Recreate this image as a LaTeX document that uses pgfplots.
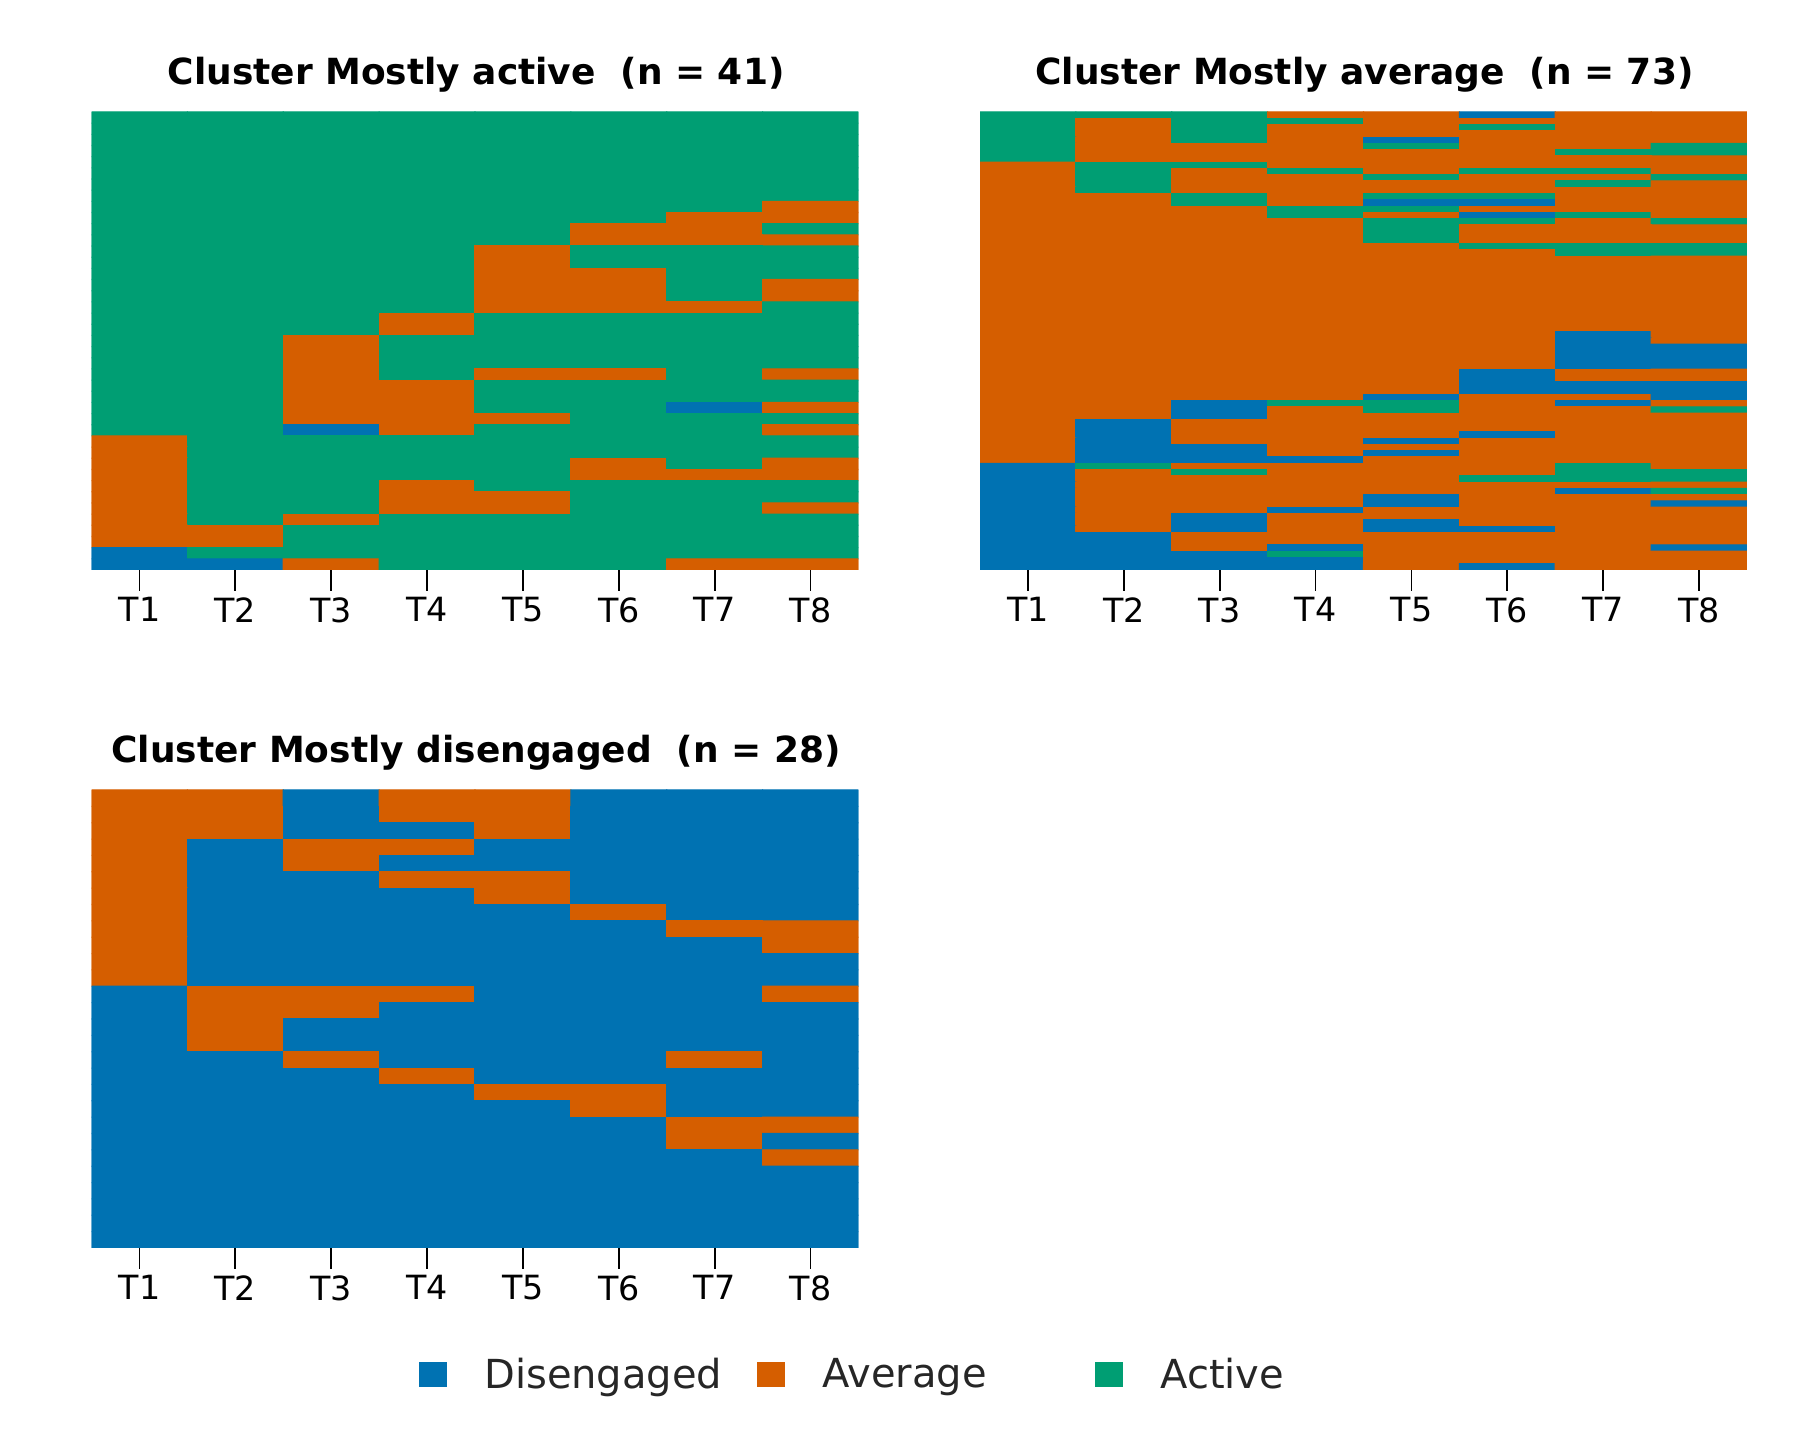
\documentclass[border=0pt]{standalone}
\usepackage{pgfplots}
\pgfplotsset{compat=1.18}
\usepackage{fontspec}
\setmainfont{DejaVu Sans}
\definecolor{cDis}{RGB}{0,114,178}
\definecolor{cAvg}{RGB}{213,94,0}
\definecolor{cAct}{RGB}{0,158,115}
\definecolor{txtgray}{RGB}{38,38,38}
\pgfplotsset{
  seqax/.style={
    anchor=south west, scale only axis, width=276.12pt, height=164.88pt,
    xmin=0.5, xmax=8.5, y dir=reverse,
    axis line style={draw=none},
    xtick={1,2,3,4,5,6,7,8}, xticklabels={T1,T2,T3,T4,T5,T6,T7,T8},
    ytick=\empty, tick align=outside, tick pos=left,
    major tick length=7.5pt,
    tick style={black, line width=0.6pt},
    xticklabel style={font=\fontsize{12}{14.4}\selectfont, text=black, yshift=1.1pt},
    colormap={seqcm}{rgb255=(0,114,178) rgb255=(213,94,0) rgb255=(0,158,115)},
    point meta min=0, point meta max=2,
  },
  seqplot/.style={matrix plot*, mesh/cols=8, point meta=explicit},
}
\begin{document}
\begin{tikzpicture}
\path[use as bounding box] (0,0) rectangle (648pt,518.4pt);
% Cluster Mostly active (41 sequences, row 0 at top)
\begin{axis}[seqax, at={(32.94pt,313.2pt)}, ymin=-0.5, ymax=40.5]
\addplot[seqplot] coordinates {
(1,0)[2] (2,0)[2] (3,0)[2] (4,0)[2] (5,0)[2] (6,0)[2] (7,0)[2] (8,0)[2]
(1,1)[2] (2,1)[2] (3,1)[2] (4,1)[2] (5,1)[2] (6,1)[2] (7,1)[2] (8,1)[2]
(1,2)[2] (2,2)[2] (3,2)[2] (4,2)[2] (5,2)[2] (6,2)[2] (7,2)[2] (8,2)[2]
(1,3)[2] (2,3)[2] (3,3)[2] (4,3)[2] (5,3)[2] (6,3)[2] (7,3)[2] (8,3)[2]
(1,4)[2] (2,4)[2] (3,4)[2] (4,4)[2] (5,4)[2] (6,4)[2] (7,4)[2] (8,4)[2]
(1,5)[2] (2,5)[2] (3,5)[2] (4,5)[2] (5,5)[2] (6,5)[2] (7,5)[2] (8,5)[2]
(1,6)[2] (2,6)[2] (3,6)[2] (4,6)[2] (5,6)[2] (6,6)[2] (7,6)[2] (8,6)[2]
(1,7)[2] (2,7)[2] (3,7)[2] (4,7)[2] (5,7)[2] (6,7)[2] (7,7)[2] (8,7)[2]
(1,8)[2] (2,8)[2] (3,8)[2] (4,8)[2] (5,8)[2] (6,8)[2] (7,8)[2] (8,8)[1]
(1,9)[2] (2,9)[2] (3,9)[2] (4,9)[2] (5,9)[2] (6,9)[2] (7,9)[1] (8,9)[1]
(1,10)[2] (2,10)[2] (3,10)[2] (4,10)[2] (5,10)[2] (6,10)[1] (7,10)[1] (8,10)[2]
(1,11)[2] (2,11)[2] (3,11)[2] (4,11)[2] (5,11)[2] (6,11)[1] (7,11)[1] (8,11)[1]
(1,12)[2] (2,12)[2] (3,12)[2] (4,12)[2] (5,12)[1] (6,12)[2] (7,12)[2] (8,12)[2]
(1,13)[2] (2,13)[2] (3,13)[2] (4,13)[2] (5,13)[1] (6,13)[2] (7,13)[2] (8,13)[2]
(1,14)[2] (2,14)[2] (3,14)[2] (4,14)[2] (5,14)[1] (6,14)[1] (7,14)[2] (8,14)[2]
(1,15)[2] (2,15)[2] (3,15)[2] (4,15)[2] (5,15)[1] (6,15)[1] (7,15)[2] (8,15)[1]
(1,16)[2] (2,16)[2] (3,16)[2] (4,16)[2] (5,16)[1] (6,16)[1] (7,16)[2] (8,16)[1]
(1,17)[2] (2,17)[2] (3,17)[2] (4,17)[2] (5,17)[1] (6,17)[1] (7,17)[1] (8,17)[2]
(1,18)[2] (2,18)[2] (3,18)[2] (4,18)[1] (5,18)[2] (6,18)[2] (7,18)[2] (8,18)[2]
(1,19)[2] (2,19)[2] (3,19)[2] (4,19)[1] (5,19)[2] (6,19)[2] (7,19)[2] (8,19)[2]
(1,20)[2] (2,20)[2] (3,20)[1] (4,20)[2] (5,20)[2] (6,20)[2] (7,20)[2] (8,20)[2]
(1,21)[2] (2,21)[2] (3,21)[1] (4,21)[2] (5,21)[2] (6,21)[2] (7,21)[2] (8,21)[2]
(1,22)[2] (2,22)[2] (3,22)[1] (4,22)[2] (5,22)[2] (6,22)[2] (7,22)[2] (8,22)[2]
(1,23)[2] (2,23)[2] (3,23)[1] (4,23)[2] (5,23)[1] (6,23)[1] (7,23)[2] (8,23)[1]
(1,24)[2] (2,24)[2] (3,24)[1] (4,24)[1] (5,24)[2] (6,24)[2] (7,24)[2] (8,24)[2]
(1,25)[2] (2,25)[2] (3,25)[1] (4,25)[1] (5,25)[2] (6,25)[2] (7,25)[2] (8,25)[2]
(1,26)[2] (2,26)[2] (3,26)[1] (4,26)[1] (5,26)[2] (6,26)[2] (7,26)[0] (8,26)[1]
(1,27)[2] (2,27)[2] (3,27)[1] (4,27)[1] (5,27)[1] (6,27)[2] (7,27)[2] (8,27)[2]
(1,28)[2] (2,28)[2] (3,28)[0] (4,28)[1] (5,28)[2] (6,28)[2] (7,28)[2] (8,28)[1]
(1,29)[1] (2,29)[2] (3,29)[2] (4,29)[2] (5,29)[2] (6,29)[2] (7,29)[2] (8,29)[2]
(1,30)[1] (2,30)[2] (3,30)[2] (4,30)[2] (5,30)[2] (6,30)[2] (7,30)[2] (8,30)[2]
(1,31)[1] (2,31)[2] (3,31)[2] (4,31)[2] (5,31)[2] (6,31)[1] (7,31)[2] (8,31)[1]
(1,32)[1] (2,32)[2] (3,32)[2] (4,32)[2] (5,32)[2] (6,32)[1] (7,32)[1] (8,32)[1]
(1,33)[1] (2,33)[2] (3,33)[2] (4,33)[1] (5,33)[2] (6,33)[2] (7,33)[2] (8,33)[2]
(1,34)[1] (2,34)[2] (3,34)[2] (4,34)[1] (5,34)[1] (6,34)[2] (7,34)[2] (8,34)[2]
(1,35)[1] (2,35)[2] (3,35)[2] (4,35)[1] (5,35)[1] (6,35)[2] (7,35)[2] (8,35)[1]
(1,36)[1] (2,36)[2] (3,36)[1] (4,36)[2] (5,36)[2] (6,36)[2] (7,36)[2] (8,36)[2]
(1,37)[1] (2,37)[1] (3,37)[2] (4,37)[2] (5,37)[2] (6,37)[2] (7,37)[2] (8,37)[2]
(1,38)[1] (2,38)[1] (3,38)[2] (4,38)[2] (5,38)[2] (6,38)[2] (7,38)[2] (8,38)[2]
(1,39)[0] (2,39)[2] (3,39)[2] (4,39)[2] (5,39)[2] (6,39)[2] (7,39)[2] (8,39)[2]
(1,40)[0] (2,40)[0] (3,40)[1] (4,40)[2] (5,40)[2] (6,40)[2] (7,40)[1] (8,40)[1]
};
\end{axis}
% Cluster Mostly average (73 sequences)
\begin{axis}[seqax, at={(352.8pt,313.2pt)}, ymin=-0.5, ymax=72.5]
\addplot[seqplot] coordinates {
(1,0)[2] (2,0)[2] (3,0)[2] (4,0)[1] (5,0)[1] (6,0)[0] (7,0)[1] (8,0)[1]
(1,1)[2] (2,1)[1] (3,1)[2] (4,1)[2] (5,1)[1] (6,1)[1] (7,1)[1] (8,1)[1]
(1,2)[2] (2,2)[1] (3,2)[2] (4,2)[1] (5,2)[1] (6,2)[2] (7,2)[1] (8,2)[1]
(1,3)[2] (2,3)[1] (3,3)[2] (4,3)[1] (5,3)[1] (6,3)[1] (7,3)[1] (8,3)[1]
(1,4)[2] (2,4)[1] (3,4)[2] (4,4)[1] (5,4)[0] (6,4)[1] (7,4)[1] (8,4)[1]
(1,5)[2] (2,5)[1] (3,5)[1] (4,5)[1] (5,5)[2] (6,5)[1] (7,5)[1] (8,5)[2]
(1,6)[2] (2,6)[1] (3,6)[1] (4,6)[1] (5,6)[1] (6,6)[1] (7,6)[2] (8,6)[2]
(1,7)[2] (2,7)[1] (3,7)[1] (4,7)[1] (5,7)[1] (6,7)[1] (7,7)[1] (8,7)[1]
(1,8)[1] (2,8)[2] (3,8)[2] (4,8)[1] (5,8)[1] (6,8)[1] (7,8)[1] (8,8)[1]
(1,9)[1] (2,9)[2] (3,9)[1] (4,9)[2] (5,9)[1] (6,9)[2] (7,9)[2] (8,9)[1]
(1,10)[1] (2,10)[2] (3,10)[1] (4,10)[1] (5,10)[2] (6,10)[1] (7,10)[1] (8,10)[2]
(1,11)[1] (2,11)[2] (3,11)[1] (4,11)[1] (5,11)[1] (6,11)[1] (7,11)[2] (8,11)[1]
(1,12)[1] (2,12)[2] (3,12)[1] (4,12)[1] (5,12)[1] (6,12)[1] (7,12)[1] (8,12)[1]
(1,13)[1] (2,13)[1] (3,13)[2] (4,13)[1] (5,13)[2] (6,13)[2] (7,13)[1] (8,13)[1]
(1,14)[1] (2,14)[1] (3,14)[2] (4,14)[1] (5,14)[0] (6,14)[0] (7,14)[1] (8,14)[1]
(1,15)[1] (2,15)[1] (3,15)[1] (4,15)[2] (5,15)[2] (6,15)[1] (7,15)[1] (8,15)[1]
(1,16)[1] (2,16)[1] (3,16)[1] (4,16)[2] (5,16)[1] (6,16)[0] (7,16)[2] (8,16)[1]
(1,17)[1] (2,17)[1] (3,17)[1] (4,17)[1] (5,17)[2] (6,17)[2] (7,17)[1] (8,17)[2]
(1,18)[1] (2,18)[1] (3,18)[1] (4,18)[1] (5,18)[2] (6,18)[1] (7,18)[1] (8,18)[1]
(1,19)[1] (2,19)[1] (3,19)[1] (4,19)[1] (5,19)[2] (6,19)[1] (7,19)[1] (8,19)[1]
(1,20)[1] (2,20)[1] (3,20)[1] (4,20)[1] (5,20)[2] (6,20)[1] (7,20)[1] (8,20)[1]
(1,21)[1] (2,21)[1] (3,21)[1] (4,21)[1] (5,21)[1] (6,21)[2] (7,21)[2] (8,21)[2]
(1,22)[1] (2,22)[1] (3,22)[1] (4,22)[1] (5,22)[1] (6,22)[1] (7,22)[2] (8,22)[2]
(1,23)[1] (2,23)[1] (3,23)[1] (4,23)[1] (5,23)[1] (6,23)[1] (7,23)[1] (8,23)[1]
(1,24)[1] (2,24)[1] (3,24)[1] (4,24)[1] (5,24)[1] (6,24)[1] (7,24)[1] (8,24)[1]
(1,25)[1] (2,25)[1] (3,25)[1] (4,25)[1] (5,25)[1] (6,25)[1] (7,25)[1] (8,25)[1]
(1,26)[1] (2,26)[1] (3,26)[1] (4,26)[1] (5,26)[1] (6,26)[1] (7,26)[1] (8,26)[1]
(1,27)[1] (2,27)[1] (3,27)[1] (4,27)[1] (5,27)[1] (6,27)[1] (7,27)[1] (8,27)[1]
(1,28)[1] (2,28)[1] (3,28)[1] (4,28)[1] (5,28)[1] (6,28)[1] (7,28)[1] (8,28)[1]
(1,29)[1] (2,29)[1] (3,29)[1] (4,29)[1] (5,29)[1] (6,29)[1] (7,29)[1] (8,29)[1]
(1,30)[1] (2,30)[1] (3,30)[1] (4,30)[1] (5,30)[1] (6,30)[1] (7,30)[1] (8,30)[1]
(1,31)[1] (2,31)[1] (3,31)[1] (4,31)[1] (5,31)[1] (6,31)[1] (7,31)[1] (8,31)[1]
(1,32)[1] (2,32)[1] (3,32)[1] (4,32)[1] (5,32)[1] (6,32)[1] (7,32)[1] (8,32)[1]
(1,33)[1] (2,33)[1] (3,33)[1] (4,33)[1] (5,33)[1] (6,33)[1] (7,33)[1] (8,33)[1]
(1,34)[1] (2,34)[1] (3,34)[1] (4,34)[1] (5,34)[1] (6,34)[1] (7,34)[1] (8,34)[1]
(1,35)[1] (2,35)[1] (3,35)[1] (4,35)[1] (5,35)[1] (6,35)[1] (7,35)[0] (8,35)[1]
(1,36)[1] (2,36)[1] (3,36)[1] (4,36)[1] (5,36)[1] (6,36)[1] (7,36)[0] (8,36)[1]
(1,37)[1] (2,37)[1] (3,37)[1] (4,37)[1] (5,37)[1] (6,37)[1] (7,37)[0] (8,37)[0]
(1,38)[1] (2,38)[1] (3,38)[1] (4,38)[1] (5,38)[1] (6,38)[1] (7,38)[0] (8,38)[0]
(1,39)[1] (2,39)[1] (3,39)[1] (4,39)[1] (5,39)[1] (6,39)[1] (7,39)[0] (8,39)[0]
(1,40)[1] (2,40)[1] (3,40)[1] (4,40)[1] (5,40)[1] (6,40)[1] (7,40)[0] (8,40)[0]
(1,41)[1] (2,41)[1] (3,41)[1] (4,41)[1] (5,41)[1] (6,41)[0] (7,41)[1] (8,41)[1]
(1,42)[1] (2,42)[1] (3,42)[1] (4,42)[1] (5,42)[1] (6,42)[0] (7,42)[1] (8,42)[1]
(1,43)[1] (2,43)[1] (3,43)[1] (4,43)[1] (5,43)[1] (6,43)[0] (7,43)[0] (8,43)[0]
(1,44)[1] (2,44)[1] (3,44)[1] (4,44)[1] (5,44)[1] (6,44)[0] (7,44)[0] (8,44)[0]
(1,45)[1] (2,45)[1] (3,45)[1] (4,45)[1] (5,45)[0] (6,45)[1] (7,45)[1] (8,45)[0]
(1,46)[1] (2,46)[1] (3,46)[0] (4,46)[2] (5,46)[2] (6,46)[1] (7,46)[0] (8,46)[1]
(1,47)[1] (2,47)[1] (3,47)[0] (4,47)[1] (5,47)[2] (6,47)[1] (7,47)[1] (8,47)[2]
(1,48)[1] (2,48)[1] (3,48)[0] (4,48)[1] (5,48)[1] (6,48)[1] (7,48)[1] (8,48)[1]
(1,49)[1] (2,49)[0] (3,49)[1] (4,49)[1] (5,49)[1] (6,49)[1] (7,49)[1] (8,49)[1]
(1,50)[1] (2,50)[0] (3,50)[1] (4,50)[1] (5,50)[1] (6,50)[1] (7,50)[1] (8,50)[1]
(1,51)[1] (2,51)[0] (3,51)[1] (4,51)[1] (5,51)[1] (6,51)[0] (7,51)[1] (8,51)[1]
(1,52)[1] (2,52)[0] (3,52)[1] (4,52)[1] (5,52)[0] (6,52)[1] (7,52)[1] (8,52)[1]
(1,53)[1] (2,53)[0] (3,53)[0] (4,53)[1] (5,53)[1] (6,53)[1] (7,53)[1] (8,53)[1]
(1,54)[1] (2,54)[0] (3,54)[0] (4,54)[1] (5,54)[0] (6,54)[1] (7,54)[1] (8,54)[1]
(1,55)[1] (2,55)[0] (3,55)[0] (4,55)[0] (5,55)[1] (6,55)[1] (7,55)[1] (8,55)[1]
(1,56)[0] (2,56)[2] (3,56)[1] (4,56)[1] (5,56)[1] (6,56)[1] (7,56)[2] (8,56)[1]
(1,57)[0] (2,57)[1] (3,57)[2] (4,57)[1] (5,57)[1] (6,57)[1] (7,57)[2] (8,57)[2]
(1,58)[0] (2,58)[1] (3,58)[1] (4,58)[1] (5,58)[1] (6,58)[2] (7,58)[2] (8,58)[2]
(1,59)[0] (2,59)[1] (3,59)[1] (4,59)[1] (5,59)[1] (6,59)[1] (7,59)[1] (8,59)[1]
(1,60)[0] (2,60)[1] (3,60)[1] (4,60)[1] (5,60)[1] (6,60)[1] (7,60)[0] (8,60)[2]
(1,61)[0] (2,61)[1] (3,61)[1] (4,61)[1] (5,61)[0] (6,61)[1] (7,61)[1] (8,61)[1]
(1,62)[0] (2,62)[1] (3,62)[1] (4,62)[1] (5,62)[0] (6,62)[1] (7,62)[1] (8,62)[0]
(1,63)[0] (2,63)[1] (3,63)[1] (4,63)[0] (5,63)[1] (6,63)[1] (7,63)[1] (8,63)[1]
(1,64)[0] (2,64)[1] (3,64)[0] (4,64)[1] (5,64)[1] (6,64)[1] (7,64)[1] (8,64)[1]
(1,65)[0] (2,65)[1] (3,65)[0] (4,65)[1] (5,65)[0] (6,65)[1] (7,65)[1] (8,65)[1]
(1,66)[0] (2,66)[1] (3,66)[0] (4,66)[1] (5,66)[0] (6,66)[0] (7,66)[1] (8,66)[1]
(1,67)[0] (2,67)[0] (3,67)[1] (4,67)[1] (5,67)[1] (6,67)[1] (7,67)[1] (8,67)[1]
(1,68)[0] (2,68)[0] (3,68)[1] (4,68)[1] (5,68)[1] (6,68)[1] (7,68)[1] (8,68)[1]
(1,69)[0] (2,69)[0] (3,69)[1] (4,69)[0] (5,69)[1] (6,69)[1] (7,69)[1] (8,69)[0]
(1,70)[0] (2,70)[0] (3,70)[0] (4,70)[2] (5,70)[1] (6,70)[1] (7,70)[1] (8,70)[1]
(1,71)[0] (2,71)[0] (3,71)[0] (4,71)[0] (5,71)[1] (6,71)[1] (7,71)[1] (8,71)[1]
(1,72)[0] (2,72)[0] (3,72)[0] (4,72)[0] (5,72)[1] (6,72)[0] (7,72)[1] (8,72)[1]
};
\end{axis}
% Cluster Mostly disengaged (28 sequences)
\begin{axis}[seqax, at={(32.94pt,69.12pt)}, ymin=-0.5, ymax=27.5]
\addplot[seqplot] coordinates {
(1,0)[1] (2,0)[1] (3,0)[0] (4,0)[1] (5,0)[1] (6,0)[0] (7,0)[0] (8,0)[0]
(1,1)[1] (2,1)[1] (3,1)[0] (4,1)[1] (5,1)[1] (6,1)[0] (7,1)[0] (8,1)[0]
(1,2)[1] (2,2)[1] (3,2)[0] (4,2)[0] (5,2)[1] (6,2)[0] (7,2)[0] (8,2)[0]
(1,3)[1] (2,3)[0] (3,3)[1] (4,3)[1] (5,3)[0] (6,3)[0] (7,3)[0] (8,3)[0]
(1,4)[1] (2,4)[0] (3,4)[1] (4,4)[0] (5,4)[0] (6,4)[0] (7,4)[0] (8,4)[0]
(1,5)[1] (2,5)[0] (3,5)[0] (4,5)[1] (5,5)[1] (6,5)[0] (7,5)[0] (8,5)[0]
(1,6)[1] (2,6)[0] (3,6)[0] (4,6)[0] (5,6)[1] (6,6)[0] (7,6)[0] (8,6)[0]
(1,7)[1] (2,7)[0] (3,7)[0] (4,7)[0] (5,7)[0] (6,7)[1] (7,7)[0] (8,7)[0]
(1,8)[1] (2,8)[0] (3,8)[0] (4,8)[0] (5,8)[0] (6,8)[0] (7,8)[1] (8,8)[1]
(1,9)[1] (2,9)[0] (3,9)[0] (4,9)[0] (5,9)[0] (6,9)[0] (7,9)[0] (8,9)[1]
(1,10)[1] (2,10)[0] (3,10)[0] (4,10)[0] (5,10)[0] (6,10)[0] (7,10)[0] (8,10)[0]
(1,11)[1] (2,11)[0] (3,11)[0] (4,11)[0] (5,11)[0] (6,11)[0] (7,11)[0] (8,11)[0]
(1,12)[0] (2,12)[1] (3,12)[1] (4,12)[1] (5,12)[0] (6,12)[0] (7,12)[0] (8,12)[1]
(1,13)[0] (2,13)[1] (3,13)[1] (4,13)[0] (5,13)[0] (6,13)[0] (7,13)[0] (8,13)[0]
(1,14)[0] (2,14)[1] (3,14)[0] (4,14)[0] (5,14)[0] (6,14)[0] (7,14)[0] (8,14)[0]
(1,15)[0] (2,15)[1] (3,15)[0] (4,15)[0] (5,15)[0] (6,15)[0] (7,15)[0] (8,15)[0]
(1,16)[0] (2,16)[0] (3,16)[1] (4,16)[0] (5,16)[0] (6,16)[0] (7,16)[1] (8,16)[0]
(1,17)[0] (2,17)[0] (3,17)[0] (4,17)[1] (5,17)[0] (6,17)[0] (7,17)[0] (8,17)[0]
(1,18)[0] (2,18)[0] (3,18)[0] (4,18)[0] (5,18)[1] (6,18)[1] (7,18)[0] (8,18)[0]
(1,19)[0] (2,19)[0] (3,19)[0] (4,19)[0] (5,19)[0] (6,19)[1] (7,19)[0] (8,19)[0]
(1,20)[0] (2,20)[0] (3,20)[0] (4,20)[0] (5,20)[0] (6,20)[0] (7,20)[1] (8,20)[1]
(1,21)[0] (2,21)[0] (3,21)[0] (4,21)[0] (5,21)[0] (6,21)[0] (7,21)[1] (8,21)[0]
(1,22)[0] (2,22)[0] (3,22)[0] (4,22)[0] (5,22)[0] (6,22)[0] (7,22)[0] (8,22)[1]
(1,23)[0] (2,23)[0] (3,23)[0] (4,23)[0] (5,23)[0] (6,23)[0] (7,23)[0] (8,23)[0]
(1,24)[0] (2,24)[0] (3,24)[0] (4,24)[0] (5,24)[0] (6,24)[0] (7,24)[0] (8,24)[0]
(1,25)[0] (2,25)[0] (3,25)[0] (4,25)[0] (5,25)[0] (6,25)[0] (7,25)[0] (8,25)[0]
(1,26)[0] (2,26)[0] (3,26)[0] (4,26)[0] (5,26)[0] (6,26)[0] (7,26)[0] (8,26)[0]
(1,27)[0] (2,27)[0] (3,27)[0] (4,27)[0] (5,27)[0] (6,27)[0] (7,27)[0] (8,27)[0]
};
\end{axis}
% legend
\begin{axis}[anchor=south west, at={(0pt,0pt)}, scale only axis, width=648pt, height=518.4pt,
  hide axis, xmin=0, xmax=1, ymin=0, ymax=1,
  legend columns=3, legend cell align=left,
  legend style={at={(0.23278,0.04514)}, anchor=west, draw=none, fill=none,
    inner sep=0pt, outer sep=0pt, nodes={inner sep=0pt},
    font=\fontsize{14.4}{17.3}\selectfont, text=txtgray,
    /tikz/every odd column/.append style={column sep=13.5pt},
    /tikz/every even column/.append style={column sep=7.36pt}},
  legend image code/.code={\fill[#1] (0pt,-4.3pt) rectangle (9.6pt,4.3pt);},
]
\addlegendimage{cDis}\addlegendentry{\makebox[90.84pt][l]{Disengaged}}
\addlegendimage{cAvg}\addlegendentry{\makebox[90.84pt][l]{Average}}
\addlegendimage{cAct}\addlegendentry{\makebox[90.84pt][l]{Active}}
\end{axis}
\node[anchor=base, font=\bfseries\fontsize{12.95}{15.6}\selectfont] at (171.4pt,487.8pt) {Cluster Mostly active\ \ (n = 41)};
\node[anchor=base, font=\bfseries\fontsize{12.95}{15.6}\selectfont] at (491.2pt,487.8pt) {Cluster Mostly average\ \ (n = 73)};
\node[anchor=base, font=\bfseries\fontsize{12.95}{15.6}\selectfont] at (171.4pt,243.72pt) {Cluster Mostly disengaged\ \ (n = 28)};
\end{tikzpicture}
\end{document}
